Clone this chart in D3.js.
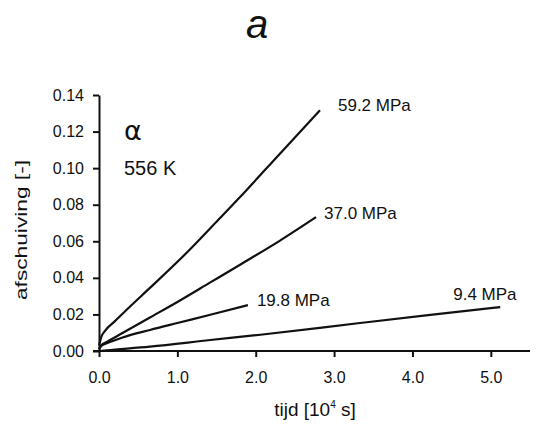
<!DOCTYPE html>
<html>
<head>
<meta charset="utf-8">
<script src="https://cdn.jsdelivr.net/npm/d3@7"></script>
<style>
  body { margin: 0; background: #fff; }
  text { font-family: "Liberation Sans", Arial, sans-serif; fill: #111; }
</style>
</head>
<body>
<svg id="chart"></svg>
<script>
const width = 541;
const height = 432;

// tijd [10^4 s] and afschuiving [-]
const t592 = [0, 0.03, 0.08, 0.2, 0.4, 0.65, 1.16, 1.52, 1.8, 2.3, 2.82];
const e592 = [0.003, 0.0077, 0.0112, 0.0162, 0.0245, 0.0345, 0.0555, 0.0716, 0.0842, 0.1075, 0.1317];
const t370 = [0, 0.03, 0.1, 0.3, 0.65, 1.0, 1.42, 1.8, 2.3, 2.77];
const e370 = [0.001, 0.0032, 0.005, 0.0098, 0.0183, 0.0268, 0.0375, 0.0472, 0.0601, 0.0732];
const t198 = [0, 0.03, 0.1, 0.3, 0.65, 1.0, 1.42, 1.9];
const e198 = [0.001, 0.0028, 0.0042, 0.0074, 0.0115, 0.0153, 0.0198, 0.0251];
const t94 = [0, 0.1, 0.65, 1.42, 2.06, 3.33, 4.2, 5.12];
const e94 = [0, 0.0004, 0.0024, 0.006, 0.0089, 0.0153, 0.0196, 0.024];

const seriesLabels = ["59.2 MPa", "37.0 MPa", "19.8 MPa", "9.4 MPa"];
const xTicks = [0, 1, 2, 3, 4, 5];
const yTicks = [0, 0.02, 0.04, 0.06, 0.08, 0.10, 0.12, 0.14];

const series = [
    { t: t592, e: e592, label: seriesLabels[0], dx: 18, dy: 1 },
    { t: t370, e: e370, label: seriesLabels[1], dx: 8, dy: 2 },
    { t: t198, e: e198, label: seriesLabels[2], dx: 9, dy: 1 },
    { t: t94, e: e94, label: seriesLabels[3], dx: -47, dy: -7 }
];

const margin = { left: 99, right: 11, top: 95, bottom: 81 };

const svg = d3.select("#chart")
    .attr("width", width)
    .attr("height", height);

const x = d3.scaleLinear()
    .domain([0, 5.5])
    .range([margin.left, width - margin.right]);

const y = d3.scaleLinear()
    .domain([0, 0.14])
    .range([height - margin.bottom, margin.top]);

// title
svg.append("text")
    .attr("x", 257)
    .attr("y", 38)
    .attr("text-anchor", "middle")
    .style("font-size", "40px")
    .style("font-style", "italic")
    .attr("fill", "#222")
    .text("a");

const xAxis = svg.append("g")
    .attr("transform", `translate(0,${y(0)})`)
    .call(d3.axisBottom(x)
        .tickValues(xTicks)
        .tickFormat(d3.format(".1f"))
        .tickSize(6)
        .tickSizeOuter(0)
        .tickPadding(15));

const yAxis = svg.append("g")
    .attr("transform", `translate(${x(0)},0)`)
    .call(d3.axisLeft(y)
        .tickValues(yTicks)
        .tickFormat(d3.format(".2f"))
        .tickSize(6)
        .tickSizeOuter(0)
        .tickPadding(9));

[xAxis, yAxis].forEach(g => {
    g.select(".domain").attr("stroke", "#111").attr("stroke-width", 2);
    g.selectAll(".tick line").attr("stroke", "#111").attr("stroke-width", 2);
    g.selectAll(".tick text")
        .style("font-family", "'Liberation Sans', Arial, sans-serif")
        .style("font-size", "16px")
        .attr("fill", "#111");
});
// x axis starts under the y tick
xAxis.select(".domain").attr("d", `M${x(0) - 6},0H${x(5.5)}`);

// axis titles
const xTitle = svg.append("text")
    .attr("x", 315)
    .attr("y", 416)
    .attr("text-anchor", "middle")
    .style("font-size", "19px");
xTitle.append("tspan").text("tijd [10");
xTitle.append("tspan").attr("dy", -8).style("font-size", "10px").text("4");
xTitle.append("tspan").attr("dy", 8).text(" s]");

svg.append("text")
    .attr("transform", "translate(27,230) rotate(-90)")
    .attr("text-anchor", "middle")
    .style("font-size", "17px")
    .attr("textLength", 140)
    .attr("lengthAdjust", "spacingAndGlyphs")
    .text("afschuiving [-]");

// annotations
svg.append("text")
    .attr("x", 124)
    .attr("y", 140)
    .style("font-family", "'DejaVu Sans', sans-serif")
    .style("font-size", "27px")
    .text("α");

svg.append("text")
    .attr("x", 124)
    .attr("y", 175)
    .style("font-size", "20px")
    .text("556 K");

const line = d3.line()
    .x(d => x(d[0]))
    .y(d => y(d[1]))
    .curve(d3.curveMonotoneX);

series.forEach(s => {
    const pts = s.t.map((t, i) => [t, s.e[i]]);
    svg.append("path")
        .datum(pts)
        .attr("d", line)
        .attr("fill", "none")
        .attr("stroke", "#111")
        .attr("stroke-width", 2.2);

    const last = pts[pts.length - 1];
    svg.append("text")
        .attr("x", x(last[0]) + s.dx)
        .attr("y", y(last[1]) + s.dy)
        .style("font-size", "17px")
        .text(s.label);
});
</script>
</body>
</html>
